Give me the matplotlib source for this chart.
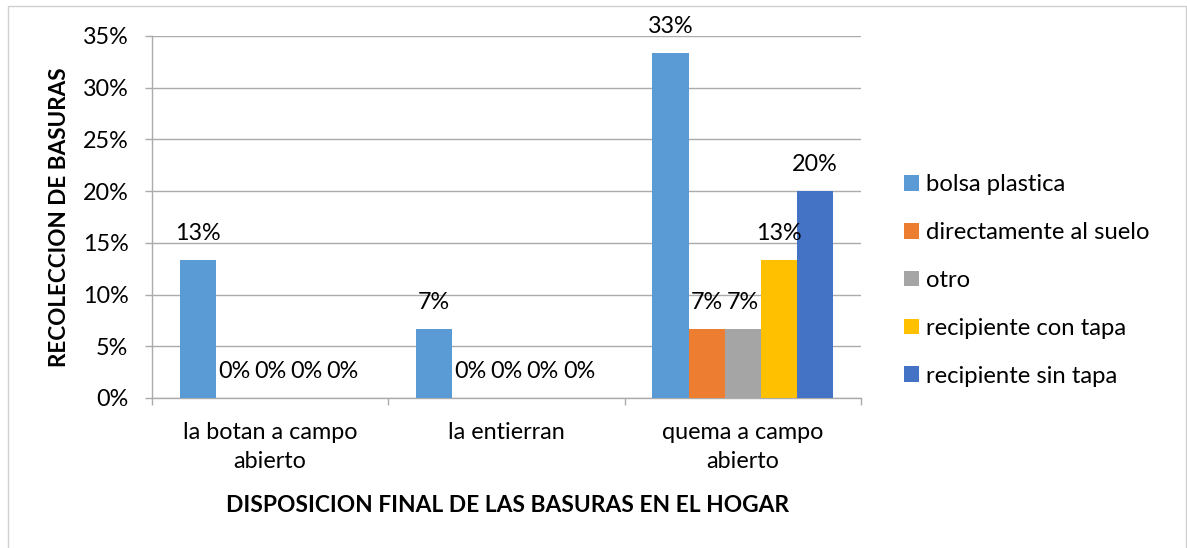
import matplotlib
matplotlib.use("Agg")
import matplotlib.pyplot as plt
from matplotlib.patches import Rectangle
import numpy as np

categories = ["la botan a campo\nabierto", "la entierran", "quema a campo\nabierto"]
series = ["bolsa plastica", "directamente al suelo", "otro",
          "recipiente con tapa", "recipiente sin tapa"]
values = {
    "bolsa plastica":        [0.1333, 0.0667, 0.3333],
    "directamente al suelo": [0.0, 0.0, 0.0667],
    "otro":                  [0.0, 0.0, 0.0667],
    "recipiente con tapa":   [0.0, 0.0, 0.1333],
    "recipiente sin tapa":   [0.0, 0.0, 0.20],
}
colors = ["#5B9BD5", "#ED7D31", "#A5A5A5", "#FFC000", "#4472C4"]
yticks = [0, 0.05, 0.10, 0.15, 0.20, 0.25, 0.30, 0.35]
ytick_labels = ["0%", "5%", "10%", "15%", "20%", "25%", "30%", "35%"]
xlabel = "DISPOSICION FINAL DE LAS BASURAS EN EL HOGAR"
ylabel = "RECOLECCION DE BASURAS"

plt.rcParams['font.family'] = ['Lato', 'DejaVu Sans']

W, H = 1187, 548
fig = plt.figure(figsize=(W / 100, H / 100), dpi=100)

def fx(px):
    return px / W

def fy(py):
    return 1 - py / H

# figure border
fig.patches.append(Rectangle((fx(8), fy(560)), fx(1186) - fx(8), fy(6) - fy(560),
                             transform=fig.transFigure, fill=False,
                             edgecolor="#D0D0D0", linewidth=1.0, zorder=0))

L, R, T, B = 152, 861, 36, 398
ax = fig.add_axes([fx(L), fy(B), fx(R) - fx(L), fy(T) - fy(B)])

grid_c = "#ABABAB"
x = np.arange(len(categories))
w = 36.2 / 236.3
fs = 16.8
for i, (s, c) in enumerate(zip(series, colors)):
    pos = x + (i - 2) * w
    vals = values[s]
    ax.bar(pos, vals, width=w, color=c, label=s, zorder=3)
    for p, v in zip(pos, vals):
        ax.annotate(f"{round(v * 100):.0f}%", (p, v), xytext=(0, 14.5),
                    textcoords="offset points", ha="center", va="baseline",
                    fontsize=fs, color="#000000", zorder=4)

ax.set_xlim(-0.5, 2.5)
ax.set_ylim(0, 0.35)
ax.set_yticks(yticks)
ax.set_yticklabels(ytick_labels, fontsize=fs)
ax.yaxis.grid(True, color=grid_c, linewidth=1.0, zorder=0)
ax.set_axisbelow(True)
ax.tick_params(axis="y", length=5, color=grid_c, width=1.0, pad=12)

ax.set_xticks(x)
ax.set_xticklabels(categories, fontsize=fs, linespacing=1.5)
ax.set_xticks([-0.5, 0.5, 1.5, 2.5], minor=True)
ax.tick_params(axis="x", which="major", length=0, pad=17)
ax.tick_params(axis="x", which="minor", length=5, color=grid_c, width=1.0)

for sp in ["top", "right"]:
    ax.spines[sp].set_visible(False)
for sp in ["left", "bottom"]:
    ax.spines[sp].set_color(grid_c)
    ax.spines[sp].set_linewidth(1.0)

fig.text(fx(508), fy(505), xlabel, ha="center", va="center",
         fontsize=16.4, fontweight="bold")
fig.text(fx(60), fy(217), ylabel, ha="center", va="center",
         rotation=90, fontsize=16.2, fontweight="bold")

fig.legend(loc="center left", bbox_to_anchor=(fx(904), fy(280.5)),
           frameon=False, fontsize=17.2, handlelength=0.62, handleheight=0.62,
           handletextpad=0.3, labelspacing=1.12, borderpad=0, borderaxespad=0)

fig.savefig("out.png", dpi=100)
